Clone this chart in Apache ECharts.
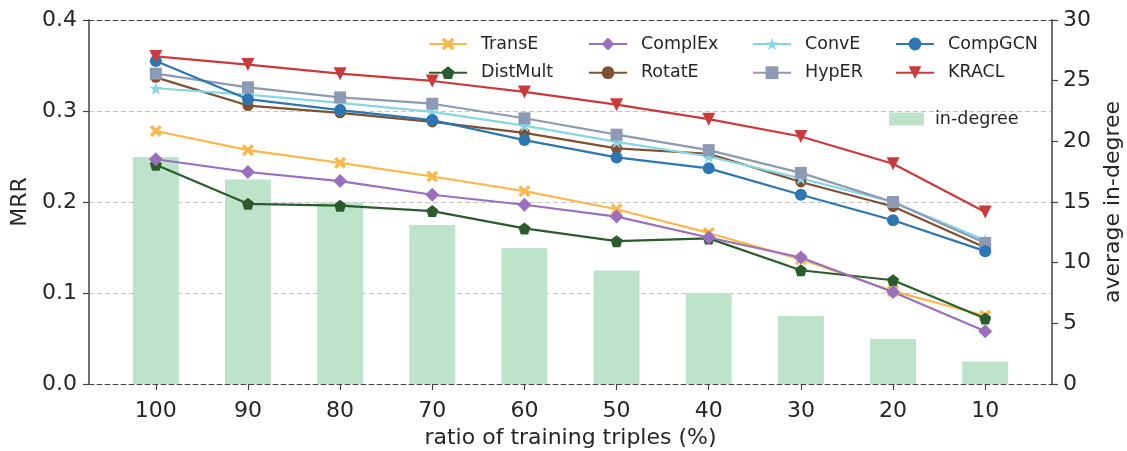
<!DOCTYPE html>
<html>
<head>
<meta charset="utf-8">
<script src="https://cdn.jsdelivr.net/npm/echarts@6/dist/echarts.min.js"></script>
<style>
  html, body { margin: 0; padding: 0; background: #fff; }
  #chart { width: 1127px; height: 451px; }
</style>
</head>
<body>
<div id="chart"></div>
<script>
// ratio of training triples kept (%)
const ratios = ['100', '90', '80', '70', '60', '50', '40', '30', '20', '10'];

// MRR per model
const transE   = [0.278, 0.257, 0.243, 0.228, 0.212, 0.192, 0.166, 0.137, 0.102, 0.075];
const distMult = [0.241, 0.198, 0.196, 0.190, 0.171, 0.157, 0.160, 0.125, 0.114, 0.072];
const complEx  = [0.247, 0.233, 0.223, 0.208, 0.197, 0.184, 0.161, 0.139, 0.101, 0.058];
const rotatE   = [0.337, 0.306, 0.298, 0.288, 0.276, 0.259, 0.253, 0.222, 0.195, 0.150];
const convE    = [0.325, 0.318, 0.309, 0.299, 0.284, 0.266, 0.250, 0.226, 0.200, 0.158];
const hypER    = [0.341, 0.326, 0.315, 0.308, 0.292, 0.274, 0.257, 0.232, 0.200, 0.155];
const compGCN  = [0.355, 0.313, 0.301, 0.290, 0.268, 0.249, 0.237, 0.208, 0.180, 0.146];
const kracl    = [0.360, 0.351, 0.341, 0.333, 0.321, 0.307, 0.291, 0.272, 0.242, 0.189];

// average in-degree of entities
const inDegree = [18.7, 16.85, 14.95, 13.1, 11.2, 9.35, 7.5, 5.6, 3.7, 1.85];

const FONT = 'DejaVu Sans';
const TEXT = '#262626';

// matplotlib-like marker shapes
const MARK_X = 'path://M2,0 L5,3 L8,0 L10,2 L7,5 L10,8 L8,10 L5,7 L2,10 L0,8 L3,5 L0,2 Z';
const MARK_PENT = 'path://M5,0 L10,3.8 L8.1,10 L1.9,10 L0,3.8 Z';
const MARK_DIAMOND = 'path://M5,0 L10,5 L5,10 L0,5 Z';
const MARK_STAR = 'path://M5,0 L6.12,3.459 L9.755,3.455 L6.812,5.589 L7.939,9.045 L5,6.905 L2.061,9.045 L3.188,5.589 L0.245,3.455 L3.88,3.459 Z';
const MARK_TRI_DOWN = 'path://M0,0 L10,0 L5,10 Z';

const models = [
  { name: 'TransE',   data: transE,   color: '#fbb84a', symbol: MARK_X,        size: 12 },
  { name: 'DistMult', data: distMult, color: '#2b5d2c', symbol: MARK_PENT,     size: 12 },
  { name: 'ComplEx',  data: complEx,  color: '#9a6fbe', symbol: MARK_DIAMOND,  size: 14 },
  { name: 'RotatE',   data: rotatE,   color: '#7f4f2f', symbol: 'circle',      size: 11 },
  { name: 'ConvE',    data: convE,    color: '#86d6e6', symbol: MARK_STAR,     size: 13 },
  { name: 'HypER',    data: hypER,    color: '#8d9ab4', symbol: 'rect',        size: 12 },
  { name: 'CompGCN',  data: compGCN,  color: '#2c77b1', symbol: 'circle',      size: 12 },
  { name: 'KRACL',    data: kracl,    color: '#cb3a3a', symbol: MARK_TRI_DOWN, size: 13 }
];

const idx = ratios.map((_, i) => i);
const xMin = -0.725, xMax = 9.725;

const lineSeries = models.map(m => ({
  name: m.name,
  type: 'line',
  xAxisIndex: 0,
  yAxisIndex: 0,
  data: m.data.map((v, i) => [i, v]),
  symbol: m.symbol,
  symbolSize: m.size,
  showAllSymbol: true,
  lineStyle: { color: m.color, width: 2.2 },
  itemStyle: { color: m.color, borderWidth: 0 },
  emphasis: { disabled: true },
  z: 3
}));

const barSeries = {
  name: 'in-degree',
  type: 'bar',
  xAxisIndex: 0,
  yAxisIndex: 1,
  data: inDegree.map((v, i) => [i, v]),
  barWidth: 46,
  itemStyle: { color: '#bde4ca' },
  emphasis: { disabled: true },
  z: 1
};

const legendText = { fontFamily: FONT, fontSize: 17.5, color: TEXT, padding: [0, 0, 0, 9] };
function legendCol(names, left) {
  return {
    data: names, orient: 'vertical', left: left, top: 35, padding: 0,
    itemWidth: 38, itemHeight: 16, itemGap: 10.7,
    textStyle: legendText, selectedMode: false
  };
}

const option = {
  animation: false,
  backgroundColor: '#fff',
  grid: { left: 89, right: 75, top: 20, bottom: 67, outerBoundsMode: 'none', containLabel: false },
  legend: [
    legendCol(['TransE', 'DistMult'], 428),
    legendCol(['ComplEx', 'RotatE'], 588),
    legendCol(['ConvE', 'HypER'], 752),
    legendCol(['CompGCN', 'KRACL'], 895),
    {
      data: [{ name: 'in-degree', icon: 'rect' }], left: 889, top: 110, padding: 0,
      itemWidth: 35, itemHeight: 13,
      textStyle: Object.assign({}, legendText, { padding: [0, 0, 0, 6] }),
      selectedMode: false
    }
  ],
  xAxis: [
    {
      type: 'value', position: 'bottom', min: xMin, max: xMax,
      name: 'ratio of training triples (%)', nameLocation: 'middle', nameGap: 43,
      nameTextStyle: { fontFamily: FONT, fontSize: 22, color: TEXT },
      axisLine: { onZero: false, lineStyle: { color: '#444', width: 1, type: [5, 3] } },
      axisTick: { show: true, customValues: idx, length: 6, lineStyle: { color: '#444', width: 1.2 } },
      axisLabel: {
        customValues: idx, margin: 16,
        formatter: v => ratios[Math.round(v)],
        fontFamily: FONT, fontSize: 22, color: TEXT
      },
      splitLine: { show: false }
    },
    {
      type: 'value', position: 'top', min: xMin, max: xMax,
      axisLine: { onZero: false, lineStyle: { color: '#444', width: 1, type: [5, 3] } },
      axisTick: { show: false }, axisLabel: { show: false }, splitLine: { show: false }
    }
  ],
  yAxis: [
    {
      type: 'value', min: 0, max: 0.4, interval: 0.1, position: 'left',
      name: 'MRR', nameLocation: 'middle', nameGap: 55, nameRotate: 90,
      nameTextStyle: { fontFamily: FONT, fontSize: 22, color: TEXT },
      axisLine: { show: true, onZero: false, lineStyle: { color: '#707070', width: 2 } },
      axisTick: { show: true, length: 6, lineStyle: { color: '#444', width: 1.2 } },
      axisLabel: { margin: 12, formatter: v => v.toFixed(1), fontFamily: FONT, fontSize: 22, color: TEXT },
      splitLine: { show: true, lineStyle: { color: '#c4c4c4', width: 1.2, type: [5, 3] } }
    },
    {
      type: 'value', min: 0, max: 30, interval: 5, position: 'right',
      name: 'average in-degree', nameLocation: 'middle', nameGap: 46, nameRotate: 90,
      nameTextStyle: { fontFamily: FONT, fontSize: 22, color: TEXT },
      axisLine: { show: true, onZero: false, lineStyle: { color: '#707070', width: 2 } },
      axisTick: { show: true, length: 6, lineStyle: { color: '#444', width: 1.2 } },
      axisLabel: { margin: 11, fontFamily: FONT, fontSize: 22, color: TEXT },
      splitLine: { show: false }
    }
  ],
  series: [barSeries].concat(lineSeries)
};

const chart = echarts.init(document.getElementById('chart'), null, { renderer: 'canvas' });
chart.setOption(option);
</script>
</body>
</html>
